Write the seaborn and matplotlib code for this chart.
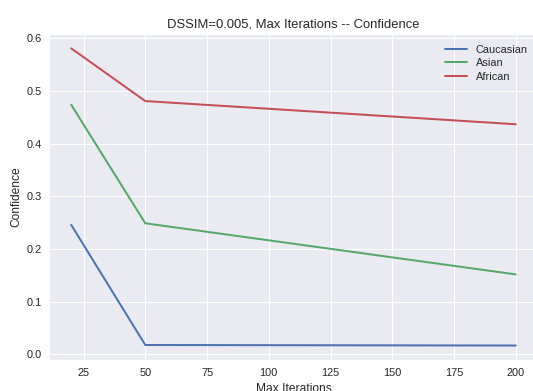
import matplotlib
matplotlib.use("Agg")
import matplotlib.pyplot as plt
import seaborn as sns
import pandas as pd

# Confidence per population group at each max-iteration setting (DSSIM = 0.005)
max_iterations = [20, 50, 200]
caucasian = [0.246, 0.018, 0.017]
asian = [0.474, 0.249, 0.152]
african = [0.581, 0.481, 0.437]

groups = ["Caucasian", "Asian", "African"]
colors = ["#4C72B0", "#55A868", "#C44E52"]

rows = []
for name, vals in zip(groups, [caucasian, asian, african]):
    for it, v in zip(max_iterations, vals):
        rows.append({"Max Iterations": it, "Confidence": v, "group": name})
df = pd.DataFrame(rows)

sns.set_theme(style="darkgrid", rc={
    "axes.facecolor": "#EAEAF2",
    "grid.color": "white",
    "grid.linewidth": 1.0,
    "axes.edgecolor": "white",
    "text.color": "#262626",
    "axes.labelcolor": "#262626",
    "xtick.color": "#262626",
    "ytick.color": "#262626",
})
plt.rcParams["font.family"] = ["Liberation Sans", "DejaVu Sans"]

fig = plt.figure(figsize=(533 / 72, 391 / 72), dpi=72)
ax = fig.add_axes([0.0919, 0.0783, 0.9174, 0.836])

sns.lineplot(data=df, x="Max Iterations", y="Confidence", hue="group",
             hue_order=groups, palette=colors, linewidth=2.0, ax=ax)

ax.set_title("DSSIM=0.005, Max Iterations -- Confidence", fontsize=13)
ax.set_xlabel("Max Iterations", fontsize=12, labelpad=5)
ax.set_ylabel("Confidence", fontsize=12)
ax.tick_params(axis="x", labelsize=11, length=0, pad=8)
ax.tick_params(axis="y", labelsize=11, length=0, pad=7)
ax.set_xticks([25, 50, 75, 100, 125, 150, 175, 200])
ax.set_yticks([0.0, 0.1, 0.2, 0.3, 0.4, 0.5, 0.6])
ax.set_xlim(11, 209)
ax.set_ylim(-0.0112, 0.6092)

leg = ax.legend(loc="upper right", frameon=False, fontsize=11,
                labelspacing=0.3, bbox_to_anchor=(0.999, 0.995), title=None)

fig.savefig("out.png", dpi=72)
